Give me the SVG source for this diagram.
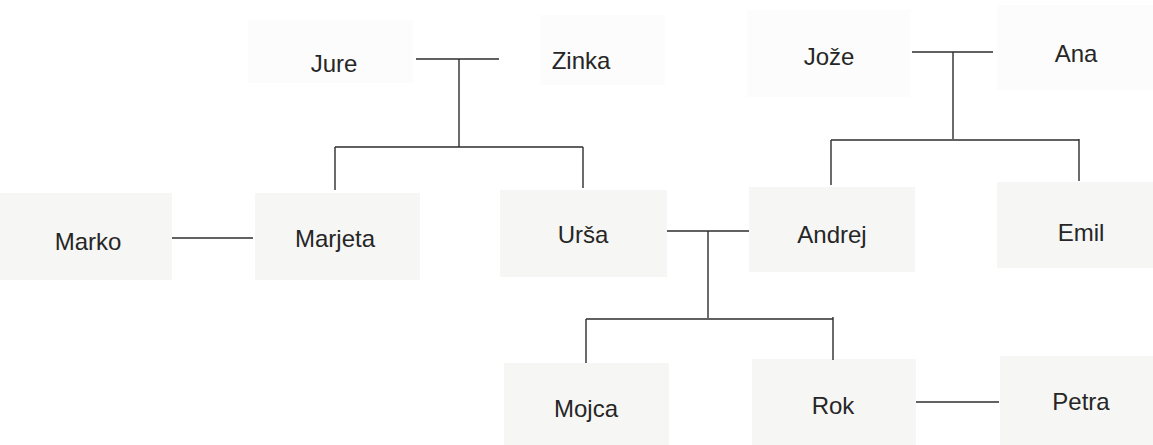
<svg xmlns="http://www.w3.org/2000/svg" width="1153" height="445" viewBox="0 0 1153 445">
<style>
.bg{fill:#ffffff}
.box{fill:#f6f6f5}
.boxf{fill:#fcfcfc}
.lbl{font-family:"Liberation Sans",Arial,sans-serif;font-size:24px;fill:#262626;text-anchor:middle}
.ln{stroke:#2e2e2e;stroke-width:1.4;fill:none}
</style>
<rect class="bg" x="0" y="0" width="1153" height="445"/>
<g id="jure"><rect class="boxf" x="248" y="20" width="165" height="63"/><text class="lbl" x="334" y="72">Jure</text></g>
<g id="zinka"><rect class="boxf" x="540" y="15" width="125" height="70"/><text class="lbl" x="581" y="69">Zinka</text></g>
<g id="joze"><rect class="boxf" x="747" y="10" width="163" height="87"/><text class="lbl" x="829" y="65">Jože</text></g>
<g id="ana"><rect class="boxf" x="997" y="5" width="156" height="85"/><text class="lbl" x="1076" y="62">Ana</text></g>
<g id="marko"><rect class="box" x="0" y="193" width="172" height="87"/><text class="lbl" x="88" y="250">Marko</text></g>
<g id="marjeta"><rect class="box" x="255" y="193" width="165" height="87"/><text class="lbl" x="335" y="247">Marjeta</text></g>
<g id="ursa"><rect class="box" x="500" y="190" width="167" height="87"/><text class="lbl" x="583" y="243">Urša</text></g>
<g id="andrej"><rect class="box" x="749" y="187" width="166" height="85"/><text class="lbl" x="832" y="243">Andrej</text></g>
<g id="emil"><rect class="box" x="997" y="182" width="156" height="86"/><text class="lbl" x="1081" y="241">Emil</text></g>
<g id="mojca"><rect class="box" x="504" y="363" width="165" height="82"/><text class="lbl" x="586" y="417">Mojca</text></g>
<g id="rok"><rect class="box" x="752" y="359" width="164" height="86"/><text class="lbl" x="833" y="414">Rok</text></g>
<g id="petra"><rect class="box" x="1000" y="356" width="153" height="89"/><text class="lbl" x="1081" y="410">Petra</text></g>
<g id="connectors">
<path class="ln" d="M416 59H499M459 59V147M335 147H583M335 147V190M583 147V188"/>
<path class="ln" d="M912 52H993M953 52V139M831 140H1079M831 140V185M1079 139V181"/>
<path class="ln" d="M172 238H253"/>
<path class="ln" d="M667 231H749M708 231V318M586 319H833M586 319V363M833 317V360"/>
<path class="ln" d="M916 402H999"/>
</g>
</svg>
